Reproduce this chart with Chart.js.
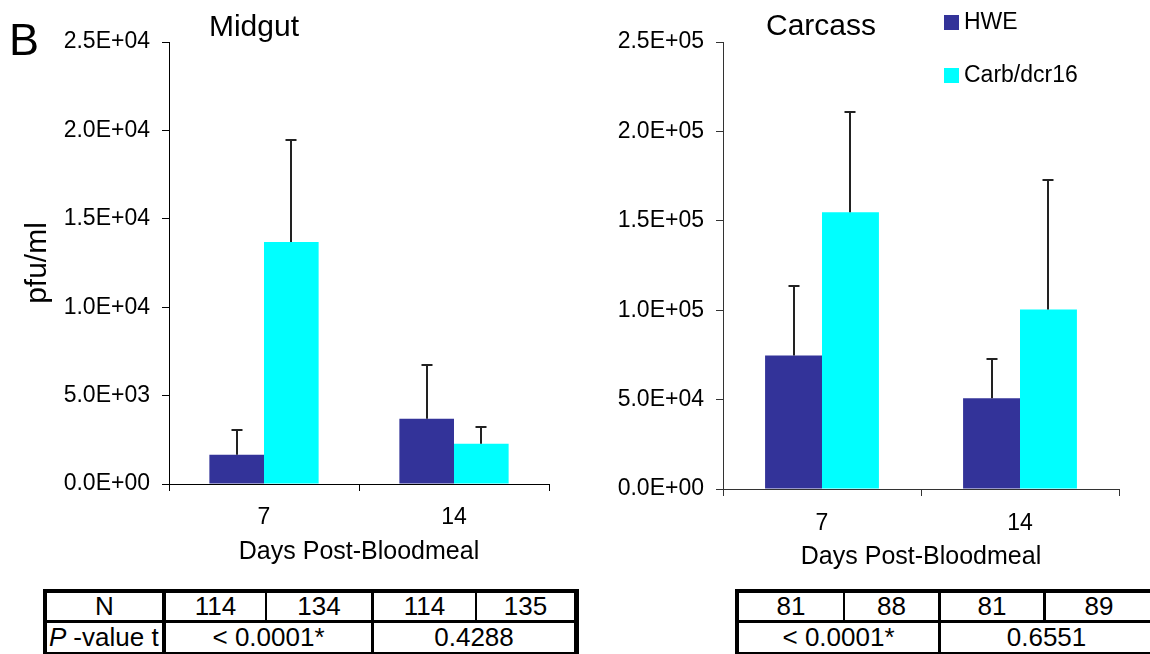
<!DOCTYPE html>
<html>
<head>
<meta charset="utf-8">
<script src="https://cdn.jsdelivr.net/npm/chart.js@4.4.1/dist/chart.umd.min.js"></script>
<style>
  html, body { margin: 0; padding: 0; background: #fff; }
  body { width: 1150px; height: 654px; overflow: hidden; position: relative;
         font-family: "Liberation Sans", Arial, Helvetica, sans-serif; color: #000; }
  canvas { position: absolute; top: 0; }
  .txt { position: absolute; white-space: nowrap; line-height: 1; }
  .box { position: absolute; background: #000; }
  .cell { position: absolute; display: flex; align-items: center; justify-content: center;
          font-size: 26px; white-space: nowrap; overflow: hidden; }
</style>
</head>
<body>
<canvas id="c1" width="575" height="580" style="left:0;width:575px;height:580px"></canvas>
<canvas id="c2" width="575" height="580" style="left:575px;width:575px;height:580px"></canvas>
<div id="overlay"></div>
<script>
// ---------------- data ----------------
const categories = ['7', '14'];
const seriesNames = ['HWE', 'Carb/dcr16'];
const seriesColors = ['#333399', '#00FFFF'];

// Midgut (pfu/ml) means and upper error amounts
const midgutHWE = [1650, 3690];
const midgutHWEErr = [1400, 3050];
const midgutCarb = [13690, 2280];
const midgutCarbErr = [5760, 920];

// Carcass (pfu/ml) means and upper error amounts
const carcassHWE = [74700, 50700];
const carcassHWEErr = [39000, 22200];
const carcassCarb = [154800, 100400];
const carcassCarbErr = [56100, 72500];

// y tick ranges
const midgutMax = 25000, midgutStep = 5000;
const carcassMax = 250000, carcassStep = 50000;

// tables
const midgutN = ['114', '134', '114', '135'];
const midgutP = ['< 0.0001*', '0.4288'];
const carcassN = ['81', '88', '81', '89'];
const carcassP = ['< 0.0001*', '0.6551'];

// ---------------- helpers ----------------
function sci(v) {
  if (v === 0) return '0.0E+00';
  const e = Math.floor(Math.log10(Math.abs(v)) + 1e-9);
  const m = v / Math.pow(10, e);
  return m.toFixed(1) + 'E' + (e < 0 ? '-' : '+') + String(Math.abs(e)).padStart(2, '0');
}

const FONT = '"Liberation Sans", Arial, Helvetica, sans-serif';
Chart.defaults.color = '#000';
Chart.defaults.font.family = FONT;

const errorBarPlugin = {
  id: 'errorBars',
  afterDatasetsDraw(chart) {
    const ctx = chart.ctx;
    const y = chart.scales.y;
    const cap = 11;
    ctx.save();
    ctx.strokeStyle = '#222';
    ctx.lineWidth = 2;
    chart.data.datasets.forEach((ds, i) => {
      const meta = chart.getDatasetMeta(i);
      meta.data.forEach((bar, j) => {
        const v = ds.data[j], e = ds.errors[j];
        const yb = y.getPixelForValue(v);
        const yt = Math.round(y.getPixelForValue(v + e));
        const x = Math.round(bar.x);
        ctx.beginPath();
        ctx.moveTo(x, yb);
        ctx.lineTo(x, yt);
        ctx.moveTo(x - cap / 2, yt);
        ctx.lineTo(x + cap / 2, yt);
        ctx.stroke();
      });
    });
    ctx.restore();
  }
};

function makeChart(id, a, aErr, b, bErr, maxV, step, cfg) {
  return new Chart(document.getElementById(id), {
    type: 'bar',
    data: {
      labels: categories,
      datasets: [
        { label: seriesNames[0], data: a, errors: aErr, backgroundColor: seriesColors[0],
          borderWidth: 0, categoryPercentage: 0.575, barPercentage: 1.0 },
        { label: seriesNames[1], data: b, errors: bErr, backgroundColor: seriesColors[1],
          borderWidth: 0, categoryPercentage: 0.575, barPercentage: 1.0 }
      ]
    },
    options: {
      responsive: false,
      animation: false,
      devicePixelRatio: 1,
      layout: { padding: { left: 0, top: cfg.top, right: cfg.right, bottom: 0 } },
      plugins: { legend: { display: false }, tooltip: { enabled: false }, title: { display: false } },
      scales: {
        x: {
          grid: { display: true, offset: true, drawOnChartArea: false, drawTicks: true,
                  tickLength: 7, color: cfg.axisColor, lineWidth: 1 },
          border: { display: true, color: cfg.axisColor, width: 1 },
          ticks: { font: { size: 23 }, padding: cfg.xTickPad, color: '#000' },
          title: { display: true, text: 'Days Post-Bloodmeal', font: { size: 25, lineHeight: 1.2 },
                   padding: { top: 0, bottom: cfg.xTitlePad }, color: '#000' },
          afterFit: (s) => { s.height = cfg.xHeight; }
        },
        y: {
          min: 0, max: maxV,
          grid: { display: true, drawOnChartArea: false, drawTicks: true, tickLength: 7,
                  color: cfg.axisColor, lineWidth: 1 },
          border: { display: true, color: cfg.axisColor, width: 1 },
          ticks: { stepSize: step, font: { size: 23 }, padding: 12, color: '#000',
                   callback: (v) => sci(v) },
          title: cfg.yTitle ? { display: true, text: cfg.yTitle, font: { size: 30, lineHeight: 1.2 },
                   padding: { top: 20, bottom: 0 }, color: '#000' } : { display: false },
          afterFit: (s) => { s.width = cfg.yWidth; }
        }
      }
    },
    plugins: [errorBarPlugin]
  });
}

makeChart('c1', midgutHWE, midgutHWEErr, midgutCarb, midgutCarbErr, midgutMax, midgutStep,
  { top: 42, right: 26, xHeight: 96, yWidth: 169, axisColor: '#000', xTitlePad: 13, xTickPad: 13, yTitle: 'pfu/ml' });
makeChart('c2', carcassHWE, carcassHWEErr, carcassCarb, carcassCarbErr, carcassMax, carcassStep,
  { top: 42, right: 31, xHeight: 91, yWidth: 148, axisColor: '#333', xTitlePad: 8, xTickPad: 14, yTitle: null });

// ---------------- overlay text, legend, tables ----------------
const ov = document.getElementById('overlay');
function add(html, style, cls) {
  const d = document.createElement('div');
  d.className = cls || 'txt';
  d.setAttribute('style', style);
  d.innerHTML = html;
  ov.appendChild(d);
  return d;
}
// baseline for line-height:1 in Liberation Sans ≈ 0.8465 * size
function textAt(text, size, baseline, style) {
  return add(text, `font-size:${size}px;top:${(baseline - 0.8465 * size).toFixed(1)}px;` + style);
}
textAt('B', 45, 55, 'left:9px;');
textAt('Midgut', 30, 36, 'left:154px;width:200px;text-align:center;');
textAt('Carcass', 30, 35, 'left:721px;width:200px;text-align:center;');

// legend
const legendTops = [15, 68.3];
seriesNames.forEach((n, i) => {
  add('', `left:944px;top:${legendTops[i]}px;width:14.5px;height:14.5px;background:${seriesColors[i]};`, 'box');
  textAt(n, 23, legendTops[i] + 14.5, 'left:964px;');
});

function rect(x, y, w, h) { add('', `left:${x}px;top:${y}px;width:${w}px;height:${h}px;`, 'box'); }
function cell(html, x, y, w, h, extra) {
  add(html, `left:${x}px;top:${y}px;width:${w}px;height:${h}px;` + (extra || ''), 'cell');
}

function buildTable(t) {
  const top = 589, r1 = 593, r1b = 620, r2 = 623, r2b = 652;
  rect(t.left, top, t.right - t.left, 4);            // top
  rect(t.left, r2b, t.right - t.left, 4);            // bottom
  rect(t.left, top, 4, r2b + 4 - top);               // left
  if (t.rightBorder) rect(t.right - t.rightBorder, top, t.rightBorder, r2b + 4 - top);
  rect(t.left, r1b, t.right - t.left, 3);            // middle horizontal
  t.seps.forEach(s => rect(s[0], r1, s[1], s[2] ? (r2b - r1) : (r1b - r1)));
  t.row1.forEach(c => cell(c[0], c[1], r1, c[2] - c[1], r1b - r1));
  t.row2.forEach(c => cell(c[0], c[1], r2, c[2] - c[1], r2b - r2, c[3] || ''));
}

buildTable({
  left: 43, right: 579, rightBorder: 5,
  seps: [[162, 4, true], [265, 2, false], [371, 3, true], [475, 2, false]],
  row1: [['N', 47, 162], [midgutN[0], 166, 265], [midgutN[1], 267, 371], [midgutN[2], 374, 475], [midgutN[3], 477, 574]],
  row2: [['<i style="margin-right:7px">P</i>-value t', 47, 162, 'justify-content:flex-start;padding-left:2px;box-sizing:border-box;'],
         [midgutP[0], 166, 371], [midgutP[1], 374, 574]]
});
buildTable({
  left: 735, right: 1156, rightBorder: 4,
  seps: [[843, 2, false], [938, 3, true], [1043, 3, false]],
  row1: [[carcassN[0], 739, 843], [carcassN[1], 845, 938], [carcassN[2], 941, 1043], [carcassN[3], 1046, 1152]],
  row2: [[carcassP[0], 739, 938], [carcassP[1], 941, 1152]]
});
</script>
</body>
</html>
